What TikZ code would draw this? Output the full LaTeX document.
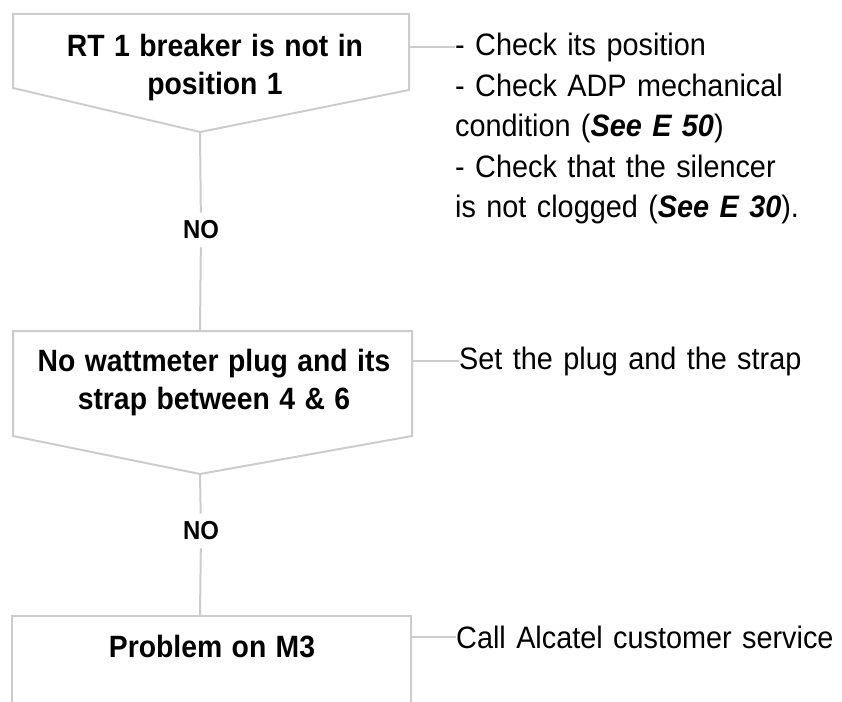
\documentclass[tikz,border=0pt]{standalone}
\usepackage{fontspec}
\setmainfont{Liberation Sans}
\newfontfamily\boxfont[FakeStretch=0.92, WordSpace=1.2]{Liberation Sans}
\newfontfamily\notefont[FakeStretch=0.93, WordSpace=1.3]{Liberation Sans}
\usepackage{tikz}
\usetikzlibrary{calc,positioning}
\definecolor{rulegray}{HTML}{CCCCCC}

\begin{document}
\begin{tikzpicture}[x=1pt, y=-1pt, every node/.style={inner sep=0pt, text=black},
  boxline/.style={draw=rulegray, line width=2pt},
  link/.style={draw=rulegray, line width=2pt},
  question/.style={font=\boxfont\fontsize{30.8}{38}\selectfont\bfseries, align=center},
  note/.style={font=\notefont\fontsize{31}{40.5}\selectfont, align=left},
  answer/.style={font=\boxfont\fontsize{26}{26}\selectfont\bfseries, inner sep=8pt}]
\useasboundingbox (0,0) rectangle (842,701);
\coordinate (q1tip) at (200,132);
\coordinate (q1side) at (409,47);
\coordinate (q2top) at (200,331);
\coordinate (q2tip) at (200,474);
\coordinate (q2side) at (412,361);
\coordinate (q3top) at (200,616);
\coordinate (q3side) at (411,637);
\draw[boxline] (13,14) -- (409,14) -- (409,90) -- (q1tip) -- (13,88) -- cycle;
\draw[boxline] (13,331) -- (412,331) -- (412,436) -- (q2tip) -- (13,436) -- cycle;
\draw[boxline] (12,703) -- (12,616) -- (411,616) -- (411,703);
\node[question] (q1) at (215,68) {RT 1 breaker is not in\\position 1};
\node[question] (q2) at (214,383) {No wattmeter plug and its\\strap between 4 \& 6};
\node[question] (q3) at (212,647) {Problem on M3};
\node[answer] (no1) at (201,230) {NO};
\node[answer] (no2) at (201,531) {NO};
\node[note, anchor=north west] (n1) at (455,33) {- Check its position\\- Check ADP mechanical\\condition (\textbf{\textit{See E 50}})\\- Check that the silencer\\is not clogged (\textbf{\textit{See E 30}}).};
\node[note, anchor=west] (n2) at (459,361) {Set the plug and the strap};
\node[note, anchor=west] (n3) at (456,637) {Call Alcatel customer service};
\draw[link] (q1tip) -- (no1);
\draw[link] (no1) -- (q2top);
\draw[link] (q2tip) -- (no2);
\draw[link] (no2) -- (q3top);
\draw[link] (q1side) -- (q1side -| n1.west);
\draw[link] (q2side) -- (n2.west);
\draw[link] (q3side) -- (n3.west);
\end{tikzpicture}
\end{document}
